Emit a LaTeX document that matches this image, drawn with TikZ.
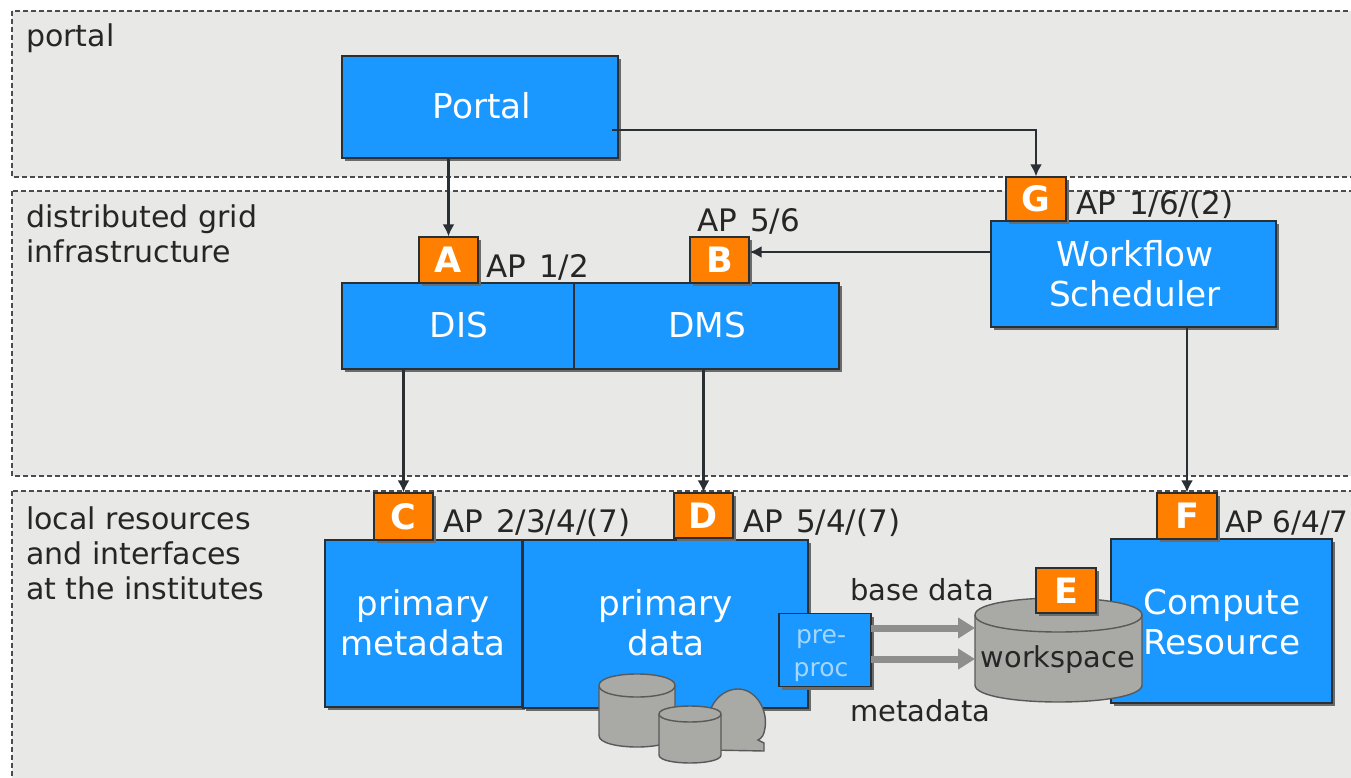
\documentclass[tikz,border=0pt]{standalone}
\usepackage{fontspec}
\setmainfont{DejaVu Sans}
\usetikzlibrary{arrows.meta,shadows}
\definecolor{bandc}{HTML}{E8E9E7}
\definecolor{bluec}{HTML}{1A98FF}
\definecolor{orangec}{HTML}{FF8000}
\definecolor{cylc}{HTML}{A9AAA6}
\definecolor{linec}{HTML}{2A2F33}
\definecolor{shadc}{HTML}{6A6C6C}
\definecolor{arrc}{HTML}{8E8F8C}
\definecolor{prec}{HTML}{A5D6FF}
\newcommand{\apfont}{\fontsize{31}{35}\selectfont\spaceskip 13pt\relax}
\tikzset{
  band/.style={fill=bandc,draw=black!70,line width=1.1pt,dash pattern=on 5pt off 3pt},
  box/.style={draw=linec,line width=1.4pt,fill=bluec,text=white,inner sep=0pt,align=center,
    font=\fontsize{35}{40}\selectfont,
    drop shadow={shadow xshift=3pt,shadow yshift=-3pt,fill=shadc,opacity=1}},
  boxtext/.style={inner sep=0pt,text=white,align=center,font=\fontsize{34.3}{40}\selectfont},
  ap/.style={draw=linec,line width=1.2pt,fill=orangec,text=white,inner sep=0pt,
    minimum width=59pt,minimum height=46pt,font=\fontsize{35}{36}\selectfont\bfseries,
    drop shadow={shadow xshift=3pt,shadow yshift=-3pt,fill=shadc,opacity=1}},
  lbl/.style={anchor=west,inner sep=0pt,text=black!85,font=\fontsize{30}{35}\selectfont,align=left},
  aplbl/.style={anchor=west,inner sep=0pt,text=black!85,font=\apfont},
  txt/.style={anchor=west,inner sep=0pt,text=black!85,font=\fontsize{29}{35}\selectfont},
  conn/.style={draw=linec,line width=2.6pt,-{Latex[length=12pt,width=12pt]}},
  fat/.style={draw=arrc,line width=7pt,-{Triangle[length=17pt,width=20pt]}},
  cyl/.style={draw=black!65,line width=1.4pt,fill=cylc},
}
% left, right, top of the top ellipse, bottom of the top ellipse, bottom
\newcommand{\mycyl}[5]{%
  \path[cyl] (#1,{(#3+#4)/2})
    .. controls (#1,{#3-(#4-#3)/6}) and (#2,{#3-(#4-#3)/6}) .. (#2,{(#3+#4)/2})
    -- (#2,{#5-(#4-#3)/2})
    .. controls (#2,{#5+(#4-#3)/6}) and (#1,{#5+(#4-#3)/6}) .. (#1,{#5-(#4-#3)/2})
    -- cycle;
  \draw[draw=black!65,line width=1.4pt] (#1,{(#3+#4)/2})
    .. controls (#1,{#4+(#4-#3)/6}) and (#2,{#4+(#4-#3)/6}) .. (#2,{(#3+#4)/2});
}
\newcommand{\tagl}[1]{\raisebox{-3pt}{#1}}
\begin{document}
\begin{tikzpicture}[x=1pt,y=-1pt]
\useasboundingbox (0,0) rectangle (1351,778);
\clip (0,0) rectangle (1351,778);
\fill[white] (0,0) rectangle (1351,778);
% bands
\path[band] (12,11) rectangle (1370,177);
\path[band] (12,191) rectangle (1370,476);
\path[band] (12,491) rectangle (1370,800);
\node[lbl] (lportal) at (26,38) {portal};
\node[lbl] (lgrid) at (26,234) {distributed grid\\infrastructure};
\node[lbl] (llocal) at (26,553) {local resources\\and interfaces\\at the institutes};
% main boxes
\node[box,minimum width=276pt,minimum height=102pt] (portal) at (480,107) {};
\node[boxtext] (portalt) at (482,106) {Portal};
\node[box,minimum width=232pt,minimum height=86pt] (dis) at (458,326) {};
\node[boxtext] (dist) at (459,325) {DIS};
\node[box,minimum width=265pt,minimum height=86pt] (dms) at (706.5,326) {};
\node[boxtext] (dmst) at (707,325) {DMS};
\node[box,minimum width=285pt,minimum height=106pt] (wf) at (1133.5,274) {};
\node[boxtext] (wft) at (1135,274) {Workflow\\Scheduler};
\node[box,minimum width=197pt,minimum height=167pt] (pmeta) at (423.5,623.5) {};
\node[boxtext,font=\fontsize{34}{40}\selectfont] (pmetat) at (423,623) {primary\\metadata};
\node[box,minimum width=285pt,minimum height=168pt] (pdata) at (665.5,624) {};
\node[boxtext] (pdatat) at (666,623) {primary\\data};
\node[box,minimum width=221pt,minimum height=164pt] (comp) at (1221.5,621) {};
\node[boxtext] (compt) at (1222,622) {Compute\\Resource};
% small data stores
\path[cyl] (709,750) .. controls (700,705) and (722,689) .. (738,689)
  .. controls (756,689) and (768,710) .. (765,728)
  .. controls (764,735) and (762,738) .. (758,740) -- (764,743) -- (764,751) -- cycle;
\mycyl{599}{675}{674}{697}{747}
\mycyl{659}{721}{706}{722}{763}
% pre-processing box
\node[box,line width=1.2pt,minimum width=92pt,minimum height=73pt] (pre) at (825,650) {};
\node[inner sep=0pt,align=center,text=prec,font=\fontsize{25}{33}\selectfont] (pret) at (821,656) {pre-\\proc};
% workspace
\mycyl{975}{1142}{598}{632}{702}
\node[inner sep=0pt,font=\fontsize{28.8}{34}\selectfont,text=black!85] (ws) at (1058,660) {workspace};
\coordinate (wsa) at (975,628);
\coordinate (wsb) at (975,659);
\coordinate (prea) at (871,628);
\coordinate (preb) at (871,659);
\draw[fat] (prea) -- (wsa);
\draw[fat] (preb) -- (wsb);
% AP tags
\node[ap] (A) at (448.5,260) {\tagl{A}};
\node[ap] (B) at (719.5,260) {\tagl{B}};
\node[ap,minimum width=60pt,minimum height=44pt] (G) at (1036,199) {\tagl{G}};
\node[ap,minimum height=47pt] (C) at (403.5,516.5) {\tagl{C}};
\node[ap,minimum height=45pt] (D) at (703.5,515.5) {\tagl{D}};
\node[ap,minimum width=60pt] (F) at (1187,516) {\tagl{F}};
\node[ap,minimum width=60pt,minimum height=45pt] (E) at (1066,590.5) {\tagl{E}};
% connectors
\coordinate (pout) at (612,130);
\draw[conn] (A.north |- portal.south) -- (A.north);
\draw[conn] (pout) -| (G.north);
\draw[conn] ([yshift=8pt]wf.west |- B.east) -- ([yshift=8pt]B.east);
\draw[conn] (C.north |- dis.south) -- (C.north);
\draw[conn] (D.north |- dms.south) -- (D.north);
\draw[conn] (F.north |- wf.south) -- (F.north);
% labels
\node[aplbl] (ta) at (486,267) {AP 1/2};
\node[aplbl] (tb) at (697,221) {AP 5/6};
\node[aplbl] (tg) at (1076,205) {AP 1/6/(2)};
\node[aplbl] (tc) at (443,523) {AP 2/3/4/(7)};
\node[aplbl] (td) at (743,523) {AP 5/4/(7)};
\node[anchor=west,inner sep=0pt,text=black!85,font=\fontsize{29.5}{35}\selectfont] (tf) at (1225,523) {AP 6/4/7};
\node[txt] (tbase) at (850,590) {base data};
\node[txt] (tmeta) at (850,711) {metadata};
\end{tikzpicture}
\end{document}
